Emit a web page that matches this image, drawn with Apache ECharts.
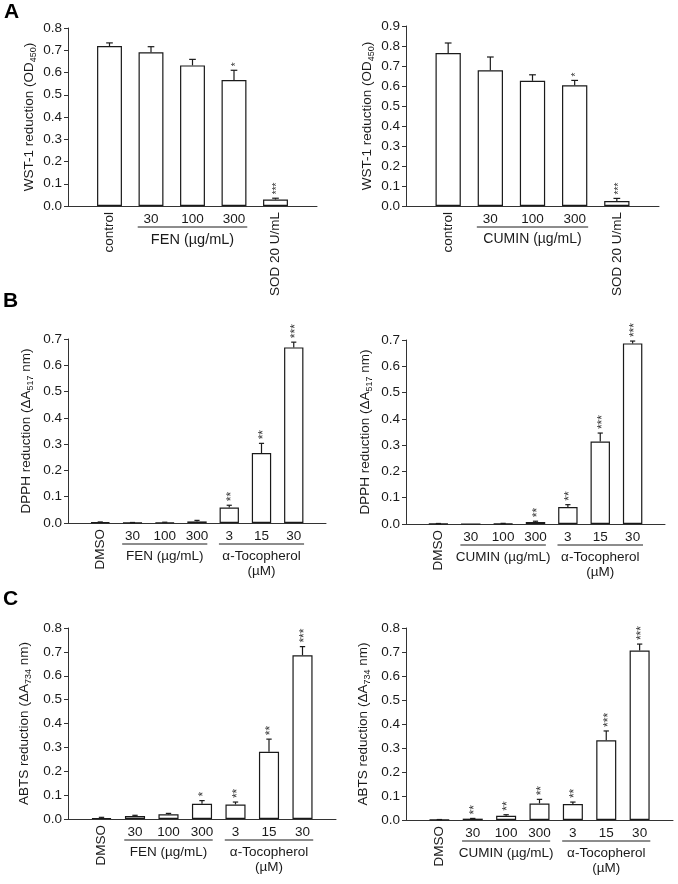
<!DOCTYPE html>
<html>
<head>
<meta charset="utf-8">
<script src="https://cdn.jsdelivr.net/npm/echarts@6/dist/echarts.min.js"></script>
<style>
html, body { margin: 0; padding: 0; background: #fff; }
#main { width: 678px; height: 884px; }
</style>
</head>
<body>
<div id="main"></div>
<script>
var FONT = 'Liberation Sans, Arial, sans-serif';
var INK = '#1a1a1a';

// A: WST-1 reduction
var wstLabels = ['', 'control', '30', '100', '300', 'SOD 20 U/mL', ''];
var wstFen = [0.719, 0.691, 0.632, 0.566, 0.029];
var wstFenErr = [0.014, 0.025, 0.027, 0.044, 0.006];
var wstFenSig = ['', '', '', '*', '***'];
var wstCumin = [0.765, 0.679, 0.626, 0.604, 0.025];
var wstCuminErr = [0.050, 0.066, 0.030, 0.024, 0.013];
var wstCuminSig = ['', '', '', '*', '***'];

// B: DPPH reduction
var radLabels = ['', 'DMSO', '30', '100', '300', '3', '15', '30', ''];
var dpphFen = [0.003, 0.001, 0.002, 0.006, 0.0585, 0.266, 0.668];
var dpphFenErr = [0.001, 0.001, 0.001, 0.004, 0.009, 0.037, 0.020];
var dpphFenSig = ['', '', '', '', '**', '**', '***'];
var dpphCumin = [0.001, 0, 0.0015, 0.0076, 0.0646, 0.314, 0.687];
var dpphCuminErr = [0.001, 0, 0.001, 0.003, 0.009, 0.032, 0.009];
var dpphCuminSig = ['', '', '', '**', '**', '***', '***'];

// C: ABTS reduction
var abtsFen = [0.004, 0.0125, 0.0195, 0.064, 0.061, 0.2815, 0.686];
var abtsFenErr = [0.003, 0.003, 0.004, 0.013, 0.010, 0.053, 0.036];
var abtsFenSig = ['', '', '', '*', '**', '**', '***'];
var abtsCumin = [0.001, 0.0056, 0.018, 0.069, 0.0667, 0.332, 0.706];
var abtsCuminErr = [0.001, 0.001, 0.004, 0.017, 0.008, 0.039, 0.027];
var abtsCuminSig = ['', '**', '**', '**', '**', '***', '***'];

// groups under the x axis (category index ranges)
var wstSpans = [[2, 4]];
var radSpans = [[2, 4], [5, 7]];
var fenGroups = ['FEN (µg/mL)', 'α-Tocopherol\n(µM)'];
var cuminGroups = ['CUMIN (µg/mL)', 'α-Tocopherol\n(µM)'];

var grids = [
    { left: 68, top: 28, width: 249, height: 178 },
    { left: 406, top: 26, width: 253, height: 180 },
    { left: 68, top: 339, width: 258, height: 184 },
    { left: 406, top: 340, width: 259, height: 184 },
    { left: 68, top: 628, width: 268, height: 191 },
    { left: 406, top: 628, width: 267, height: 192 }
];

var xAxes = [], yAxes = [], series = [];

function addPanel(gi, labels, values, errs, sigs, yMax, yName, nameGap, spans, groupNames, starSize, groupSize) {
    xAxes.push({
        type: 'category', gridIndex: gi, data: labels, boundaryGap: false,
        axisLine: { lineStyle: { color: '#333', width: 1 } },
        axisTick: { show: false }, axisLabel: { show: false }, splitLine: { show: false }
    });
    yAxes.push({
        type: 'value', gridIndex: gi, min: 0, max: yMax, interval: 0.1,
        axisLine: { show: true, lineStyle: { color: '#333', width: 1 } },
        axisTick: { show: true, length: 4, lineStyle: { color: '#333' } },
        axisLabel: {
            fontSize: 13.5, color: INK, fontFamily: FONT, margin: 6,
            formatter: function (v) { return v.toFixed(1); }
        },
        splitLine: { show: false },
        name: yName, nameLocation: 'middle', nameGap: nameGap,
        nameTextStyle: {
            fontSize: 13.5, color: INK, fontFamily: FONT, lineHeight: 18,
            rich: { s: { fontSize: 9, lineHeight: 9, verticalAlign: 'bottom', fontFamily: FONT, color: INK } }
        }
    });

    series.push({
        type: 'bar', xAxisIndex: gi, yAxisIndex: gi, barWidth: '60%', silent: true,
        itemStyle: { color: '#fff', borderColor: INK, borderWidth: 1.2 },
        data: values.map(function (v, k) { return [k + 1, v]; })
    });

    // error bars (upper half) and significance stars
    series.push({
        type: 'custom', xAxisIndex: gi, yAxisIndex: gi, silent: true, clip: false, z: 3,
        data: values.map(function (v, k) { return [k + 1, v, errs[k]]; }),
        renderItem: function (params, api) {
            var x = api.value(0), v = api.value(1), e = api.value(2);
            var base = api.coord([x, v]);
            var top = api.coord([x, v + e]);
            var cap = api.size([1, 0])[0] * 0.08;
            var kids = [];
            if (e > 0) {
                kids.push({ type: 'line', shape: { x1: base[0], y1: base[1], x2: top[0], y2: top[1] },
                    style: { stroke: INK, lineWidth: 1.2 } });
                kids.push({ type: 'line', shape: { x1: top[0] - cap, y1: top[1], x2: top[0] + cap, y2: top[1] },
                    style: { stroke: INK, lineWidth: 1.2 } });
            }
            var s = sigs[params.dataIndex];
            if (s) {
                kids.push({ type: 'text', x: top[0] + 2, y: top[1] - 4, rotation: Math.PI / 2,
                    style: { text: s, align: 'left', verticalAlign: 'middle', fill: '#333',
                        fontSize: starSize, fontFamily: FONT } });
            }
            return { type: 'group', children: kids };
        }
    });

    // category labels
    series.push({
        type: 'custom', xAxisIndex: gi, yAxisIndex: gi, silent: true, clip: false,
        data: labels.map(function (l, k) { return [k, 0]; }),
        renderItem: function (params, api) {
            var idx = api.value(0);
            var txt = labels[idx];
            if (!txt) return;
            var p = api.coord([idx, 0]);
            if (isNaN(+txt)) {
                return { type: 'text', x: p[0], y: p[1] + 6, rotation: Math.PI / 2,
                    style: { text: txt, align: 'right', verticalAlign: 'middle', fill: INK, fontSize: 13.5, fontFamily: FONT } };
            }
            return { type: 'text', x: p[0], y: p[1] + 13,
                style: { text: txt, align: 'center', verticalAlign: 'middle', fill: INK, fontSize: 13.5, fontFamily: FONT } };
        }
    });

    // group brackets
    series.push({
        type: 'custom', xAxisIndex: gi, yAxisIndex: gi, silent: true, clip: false,
        encode: { x: [0, 1], y: 2 },
        data: spans.map(function (s) { return [s[0], s[1], 0]; }),
        renderItem: function (params, api) {
            var a = api.coord([api.value(0), 0]);
            var b = api.coord([api.value(1), 0]);
            var bw = api.size([1, 0])[0];
            var y = a[1] + 21;
            return { type: 'group', children: [
                { type: 'line', shape: { x1: a[0] - 0.32 * bw, y1: y, x2: b[0] + 0.32 * bw, y2: y },
                    style: { stroke: INK, lineWidth: 1 } },
                { type: 'text', x: (a[0] + b[0]) / 2, y: a[1] + 26,
                    style: { text: groupNames[params.dataIndex], align: 'center', verticalAlign: 'top',
                        fill: INK, fontSize: groupSize, lineHeight: 15, fontFamily: FONT } }
            ] };
        }
    });
}

addPanel(0, wstLabels, wstFen, wstFenErr, wstFenSig, 0.8, 'WST-1 reduction (OD{s|450})', 30, wstSpans, fenGroups, 10, 14.5);
addPanel(1, wstLabels, wstCumin, wstCuminErr, wstCuminSig, 0.9, 'WST-1 reduction (OD{s|450})', 30, wstSpans, cuminGroups, 10, 14);
addPanel(2, radLabels, dpphFen, dpphFenErr, dpphFenSig, 0.7, 'DPPH reduction (ΔA{s|517} nm)', 33, radSpans, fenGroups, 12, 13.5);
addPanel(3, radLabels, dpphCumin, dpphCuminErr, dpphCuminSig, 0.7, 'DPPH reduction (ΔA{s|517} nm)', 32, radSpans, cuminGroups, 12, 13.5);
addPanel(4, radLabels, abtsFen, abtsFenErr, abtsFenSig, 0.8, 'ABTS reduction (ΔA{s|734} nm)', 35, radSpans, fenGroups, 12, 13.5);
addPanel(5, radLabels, abtsCumin, abtsCuminErr, abtsCuminSig, 0.8, 'ABTS reduction (ΔA{s|734} nm)', 34, radSpans, cuminGroups, 12, 13.5);

var chart = echarts.init(document.getElementById('main'));
chart.setOption({
    animation: false,
    backgroundColor: '#fff',
    grid: grids,
    xAxis: xAxes,
    yAxis: yAxes,
    series: series,
    graphic: [
        { type: 'text', left: 4, top: 2, style: { text: 'A', font: 'bold 21px ' + FONT, fill: '#000' } },
        { type: 'text', left: 3, top: 291, style: { text: 'B', font: 'bold 21px ' + FONT, fill: '#000' } },
        { type: 'text', left: 3, top: 589, style: { text: 'C', font: 'bold 21px ' + FONT, fill: '#000' } }
    ]
});
</script>
</body>
</html>
